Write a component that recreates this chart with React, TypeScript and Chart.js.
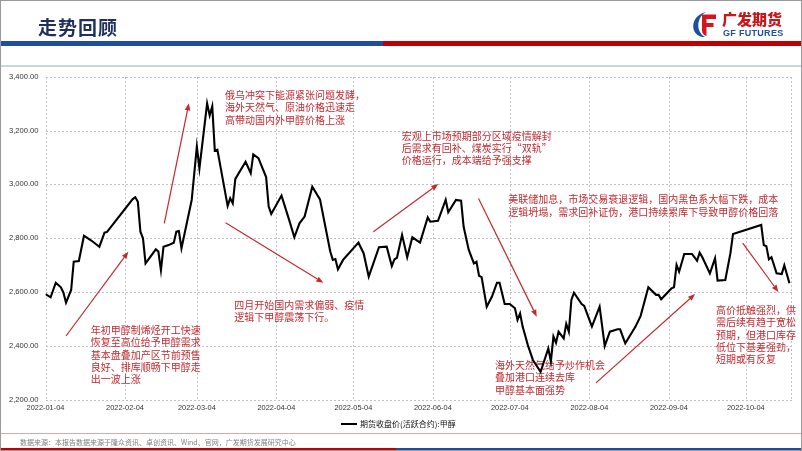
import React, { useEffect, useRef } from "react";
import { Chart, registerables } from "chart.js";

Chart.register(...registerables);

const START_DATE = "2022-01-04";
const END_DATE = "2022-10-22";
const SERIES_NAME = "期货收盘价(活跃合约):甲醇";
const TITLE = "走势回顾";
const SOURCE_TEXT = "数据来源：本报告数据来源于隆众资讯、卓创资讯、Wind、官网，广发期货发展研究中心";

const dates: string[] = [
  "2022-01-04", "2022-01-06", "2022-01-08", "2022-01-10", "2022-01-11", "2022-01-12", "2022-01-14", "2022-01-15",
  "2022-01-17", "2022-01-19", "2022-01-22", "2022-01-25", "2022-01-27", "2022-01-28",
  "2022-02-07", "2022-02-08", "2022-02-09", "2022-02-10", "2022-02-11", "2022-02-12", "2022-02-16", "2022-02-17",
  "2022-02-18", "2022-02-19", "2022-02-21", "2022-02-23", "2022-02-24", "2022-02-25", "2022-02-26",
  "2022-03-02", "2022-03-04", "2022-03-05", "2022-03-08", "2022-03-09", "2022-03-10", "2022-03-11", "2022-03-12",
  "2022-03-16", "2022-03-17", "2022-03-18", "2022-03-19", "2022-03-23", "2022-03-25", "2022-03-26", "2022-03-28",
  "2022-03-31",
  "2022-04-01", "2022-04-02", "2022-04-06", "2022-04-09", "2022-04-11", "2022-04-13", "2022-04-15", "2022-04-18",
  "2022-04-21", "2022-04-25", "2022-04-26", "2022-04-27", "2022-04-28", "2022-04-30",
  "2022-05-06", "2022-05-08", "2022-05-10", "2022-05-14", "2022-05-17", "2022-05-19", "2022-05-20", "2022-05-21",
  "2022-05-23", "2022-05-25", "2022-05-27", "2022-05-30",
  "2022-06-02", "2022-06-03", "2022-06-06", "2022-06-09", "2022-06-10", "2022-06-13", "2022-06-15", "2022-06-16",
  "2022-06-18", "2022-06-20", "2022-06-21", "2022-06-22", "2022-06-23", "2022-06-25", "2022-06-27", "2022-06-29",
  "2022-06-30",
  "2022-07-02", "2022-07-04", "2022-07-06", "2022-07-07", "2022-07-08", "2022-07-09", "2022-07-11", "2022-07-13",
  "2022-07-16", "2022-07-19", "2022-07-20", "2022-07-21", "2022-07-22", "2022-07-23", "2022-07-25", "2022-07-26",
  "2022-07-27", "2022-07-28", "2022-07-29",
  "2022-08-01", "2022-08-02", "2022-08-05", "2022-08-08", "2022-08-10", "2022-08-12", "2022-08-15", "2022-08-16",
  "2022-08-18", "2022-08-22", "2022-08-24", "2022-08-27", "2022-08-30", "2022-08-31",
  "2022-09-01", "2022-09-05", "2022-09-06", "2022-09-07", "2022-09-08", "2022-09-10", "2022-09-13", "2022-09-15",
  "2022-09-16", "2022-09-17", "2022-09-20", "2022-09-22", "2022-09-23", "2022-09-26", "2022-09-28", "2022-09-29",
  "2022-10-10", "2022-10-11", "2022-10-12", "2022-10-13", "2022-10-14", "2022-10-16", "2022-10-18", "2022-10-19",
  "2022-10-21",
];

const prices: number[] = [
  2592, 2580, 2634, 2617, 2597, 2560, 2607, 2712,
  2715, 2809, 2790, 2768, 2820, 2823,
  2945, 2952, 2935, 2824, 2799, 2706, 2758, 2750,
  2681, 2768, 2774, 2783, 2824, 2826, 2762,
  2942, 3140, 3059, 3301, 3256, 3290, 3125, 3129,
  2920, 2948, 2929, 3020, 3084, 3041, 3111, 3097,
  3027,
  2917, 2890, 2958, 2867, 2803, 2855, 2880, 2991,
  2944, 2750, 2719, 2722, 2684, 2719,
  2783, 2744, 2657, 2766, 2768, 2696, 2721, 2727,
  2812, 2729, 2803, 2783,
  2877, 2861, 2864, 2942, 2896, 2942, 2939, 2842,
  2756, 2706, 2712, 2660, 2655, 2545, 2582, 2634,
  2634,
  2555, 2555, 2539, 2496, 2520, 2471, 2403, 2347,
  2303, 2390, 2341, 2434, 2411, 2452, 2427, 2481,
  2452, 2570, 2597,
  2555, 2548, 2471, 2545, 2399, 2452, 2461, 2461,
  2409, 2471, 2511, 2617, 2589, 2589,
  2573, 2613, 2617, 2700, 2675, 2741, 2741, 2716,
  2746, 2730, 2669, 2725, 2642, 2644, 2744, 2815,
  2849, 2774, 2770, 2721, 2729, 2669, 2666, 2699,
  2632,
];

const xTickLabels: string[] = [
  "2022-01-04", "2022-02-04", "2022-03-04", "2022-04-04", "2022-05-04",
  "2022-06-04", "2022-07-04", "2022-08-04", "2022-09-04", "2022-10-04",
];
const yTickValues: number[] = [2200, 2400, 2600, 2800, 3000, 3200, 3400];

const noteTexts: string[][] = [
  ["俄乌冲突下能源紧张问题发酵，", "海外天然气、原油价格迅速走", "高带动国内外甲醇价格上涨"],
  ["宏观上市场预期部分区域疫情解封", "后需求有回补、煤炭实行“双轨”", "价格运行，成本端给予强支撑"],
  ["美联储加息，市场交易衰退逻辑，国内黑色系大幅下跌，成本", "逻辑坍塌，需求回补证伪，港口持续累库下导致甲醇价格回落"],
  ["年初甲醇制烯烃开工快速", "恢复至高位给予甲醇需求", "基本盘叠加产区节前预售", "良好、排库顺畅下甲醇走", "出一波上涨"],
  ["四月开始国内需求偏弱、疫情", "逻辑下甲醇震荡下行。"],
  ["海外天然气给予炒作机会", "叠加港口连续去库", "甲醇基本面强势"],
  ["高价抵触强烈，供", "需后续有趋于宽松", "预期，但港口库存", "低位下基差强劲，", "短期或有反复"],
];
// anchor of each note (first line, left edge): day offset from START_DATE and price level
const noteDays: number[] = [70.0, 138.9, 180.4, 17.6, 73.6, 175.2, 261.4];
const noteValues: number[] = [3332, 3180, 2944, 2458, 2551, 2328, 2533];

// arrows: start / end in (day offset, price)
const arrowFromDays: number[] = [8.0, 46.3, 70.2, 127.8, 168.8, 214.6, 271.8];
const arrowFromValues: number[] = [2436, 2855, 2857, 2824, 2947, 2262, 2781];
const arrowToDays: number[] = [32.3, 55.9, 108.3, 153.1, 191.5, 253.2, 285.7];
const arrowToValues: number[] = [2749, 3301, 2634, 3001, 2508, 2592, 2600];

const MS_DAY = 86400000;
const dayOf = (s: string) =>
  Math.round((Date.parse(s + "T00:00:00Z") - Date.parse(START_DATE + "T00:00:00Z")) / MS_DAY);

const RED = "#c32a30";
const GRID = "#c2c2c2";
const CJK = "'Noto Sans CJK SC', 'Noto Sans', sans-serif";

const notesPlugin = {
  id: "notesPlugin",
  beforeDatasetsDraw(chart: any) {
    const { ctx, chartArea, scales } = chart;
    const xs = scales.x;
    const ys = scales.y;
    ctx.save();
    // dotted grid from the scales' own tick positions (plus the right edge), drawn as small dots
    ctx.fillStyle = GRID;
    const left = Math.round(chartArea.left);
    const right = Math.round(chartArea.right);
    const top = Math.round(chartArea.top);
    const bottom = Math.round(chartArea.bottom);
    const vx: number[] = xs.ticks.map((t: any) => Math.round(xs.getPixelForValue(t.value)));
    vx.push(right - 1);
    vx.forEach((px) => {
      for (let yy = top; yy <= bottom; yy += 4) ctx.fillRect(px, yy, 1, 2);
    });
    ys.ticks.forEach((t: any) => {
      const py = Math.round(ys.getPixelForValue(t.value));
      for (let xx = left; xx <= right; xx += 4) ctx.fillRect(xx, py, 2, 1);
    });

    // arrows
    ctx.strokeStyle = RED;
    ctx.fillStyle = RED;
    ctx.lineWidth = 1.2;
    for (let i = 0; i < arrowFromDays.length; i++) {
      const x1 = xs.getPixelForValue(arrowFromDays[i]);
      const y1 = ys.getPixelForValue(arrowFromValues[i]);
      const x2 = xs.getPixelForValue(arrowToDays[i]);
      const y2 = ys.getPixelForValue(arrowToValues[i]);
      const ang = Math.atan2(y2 - y1, x2 - x1);
      const head = 7;
      const half = 2.8;
      const bx = x2 - head * Math.cos(ang);
      const by = y2 - head * Math.sin(ang);
      ctx.beginPath();
      ctx.moveTo(x1, y1);
      ctx.lineTo(bx, by);
      ctx.stroke();
      ctx.beginPath();
      ctx.moveTo(x2, y2);
      ctx.lineTo(bx + half * Math.sin(ang), by - half * Math.cos(ang));
      ctx.lineTo(bx - half * Math.sin(ang), by + half * Math.cos(ang));
      ctx.closePath();
      ctx.fill();
    }

    // notes
    ctx.font = `10px ${CJK}`;
    ctx.textBaseline = "middle";
    ctx.textAlign = "left";
    const lh = 12.4;
    for (let i = 0; i < noteTexts.length; i++) {
      const px = xs.getPixelForValue(noteDays[i]);
      const py = ys.getPixelForValue(noteValues[i]);
      noteTexts[i].forEach((line, j) => ctx.fillText(line, px, py + j * lh));
    }
    ctx.restore();
  },
};

function ChartCanvas() {
  const ref = useRef<HTMLCanvasElement | null>(null);
  useEffect(() => {
    if (!ref.current) return;
    const points = dates.map((d, i) => ({ x: dayOf(d), y: prices[i] }));
    const tickFont = { family: "'Liberation Sans', Arial, sans-serif", size: 7.4 };
    const chart = new Chart(ref.current, {
      type: "line",
      data: {
        datasets: [
          {
            label: SERIES_NAME,
            data: points,
            borderColor: "#000000",
            backgroundColor: "#000000",
            borderWidth: 2.1,
            pointRadius: 0,
            tension: 0,
            fill: false,
          },
        ],
      },
      options: {
        responsive: false,
        animation: false,
        devicePixelRatio: 1,
        layout: { padding: { left: 0, right: 10, top: 76.7, bottom: 31.5 } },
        plugins: { legend: { display: false }, tooltip: { enabled: false } },
        scales: {
          x: {
            type: "linear",
            min: 0,
            max: dayOf(END_DATE),
            afterBuildTicks: (s: any) => {
              s.ticks = xTickLabels.map((l) => ({ value: dayOf(l) }));
            },
            afterFit: (s: any) => {
              s.height = 20;
            },
            ticks: {
              autoSkip: false,
              maxRotation: 0,
              minRotation: 0,
              padding: 4,
              color: "#333333",
              font: tickFont,
              callback: (_v: any, i: number) => xTickLabels[i],
            },
            grid: { display: false, drawTicks: false },
            border: { display: false },
          },
          y: {
            min: yTickValues[0],
            max: yTickValues[yTickValues.length - 1],
            afterBuildTicks: (s: any) => {
              s.ticks = yTickValues.map((v) => ({ value: v }));
            },
            afterFit: (s: any) => {
              s.width = 45.5;
            },
            ticks: {
              padding: 7,
              color: "#333333",
              font: { family: "'Liberation Sans', Arial, sans-serif", size: 7.6 },
              callback: (v: any) =>
                Number(v).toLocaleString("en-US", { minimumFractionDigits: 2, maximumFractionDigits: 2 }),
            },
            grid: { display: false, drawTicks: false },
            border: { display: false },
          },
        },
      } as any,
      plugins: [notesPlugin],
    });
    return () => chart.destroy();
  }, []);
  return (
    <canvas
      ref={ref}
      width={802}
      height={451}
      style={{ position: "absolute", left: 0, top: 0, width: 802, height: 451 }}
    />
  );
}

function Logo() {
  return (
    <div style={{ position: "absolute", left: 691, top: 11, width: 100, height: 28 }}>
      <svg width={26} height={27} viewBox="0 0 26 27" style={{ position: "absolute", left: 0, top: 0 }}>
        <path d="M15 1 C6 3 1 10 2.5 18 C4 23.5 9 26.5 14 26 C8.5 23 6.5 17 7.5 11.5 C8.5 6.5 11 3 15 1 Z" fill="#1d4f9f" />
        <path d="M11 3.5 H25 V8 H15.5 V12 H22.5 V16 H15.5 V25 C13 24.5 11 22.5 11 19.5 Z" fill="#d2161e" />
      </svg>
      <div
        style={{
          position: "absolute",
          left: 31,
          top: -1,
          fontFamily: CJK,
          fontWeight: 900,
          fontSize: 15,
          lineHeight: "18px",
          color: "#c8161d",
          whiteSpace: "nowrap",
        }}
      >
        广发期货
      </div>
      <div
        style={{
          position: "absolute",
          left: 32,
          top: 17,
          fontFamily: "'Liberation Sans', Arial, sans-serif",
          fontWeight: 700,
          fontSize: 9,
          lineHeight: "10px",
          letterSpacing: 0.3,
          color: "#1d4f9f",
          whiteSpace: "nowrap",
        }}
      >
        GF FUTURES
      </div>
    </div>
  );
}

export default function App() {
  return (
    <div
      style={{
        position: "absolute",
        left: 0,
        top: 0,
        width: 802,
        height: 451,
        background: "#ffffff",
        overflow: "hidden",
        fontFamily: CJK,
      }}
    >
      <ChartCanvas />
      {/* header */}
      <div
        style={{
          position: "absolute",
          left: 38,
          top: 14,
          fontSize: 19,
          fontWeight: 700,
          lineHeight: "25px",
          letterSpacing: 1,
          color: "#1f2f5f",
          whiteSpace: "nowrap",
        }}
      >
        {TITLE}
      </div>
      <Logo />
      <div style={{ position: "absolute", left: 0, top: 41, width: 383, height: 5, background: "#1f4e9c" }} />
      <div style={{ position: "absolute", left: 383, top: 41, width: 419, height: 5, background: "#c00000" }} />
      <div style={{ position: "absolute", left: 0, top: 65, width: 802, height: 2, background: "#cbd4e0" }} />
      {/* legend */}
      <div style={{ position: "absolute", left: 341, top: 423, width: 16, height: 2, background: "#000" }} />
      <div
        style={{
          position: "absolute",
          left: 360,
          top: 418,
          fontSize: 8,
          lineHeight: "12px",
          color: "#111",
          whiteSpace: "nowrap",
        }}
      >
        {SERIES_NAME}
      </div>
      {/* footer */}
      <div style={{ position: "absolute", left: 0, top: 433, width: 802, height: 1, background: "#d9aaaa" }} />
      <div
        style={{
          position: "absolute",
          left: 20,
          top: 437,
          fontSize: 7,
          lineHeight: "10px",
          color: "#808080",
          whiteSpace: "nowrap",
        }}
      >
        {SOURCE_TEXT}
      </div>
      <div style={{ position: "absolute", left: 0, top: 448, width: 396, height: 3, background: "#c00000" }} />
      <div style={{ position: "absolute", left: 396, top: 448, width: 406, height: 3, background: "#1f4e9c" }} />
      <div
        style={{
          position: "absolute",
          left: 0,
          top: 0,
          width: 802,
          height: 451,
          boxSizing: "border-box",
          border: "1px solid #9a9a9a",
          pointerEvents: "none",
        }}
      />
    </div>
  );
}
